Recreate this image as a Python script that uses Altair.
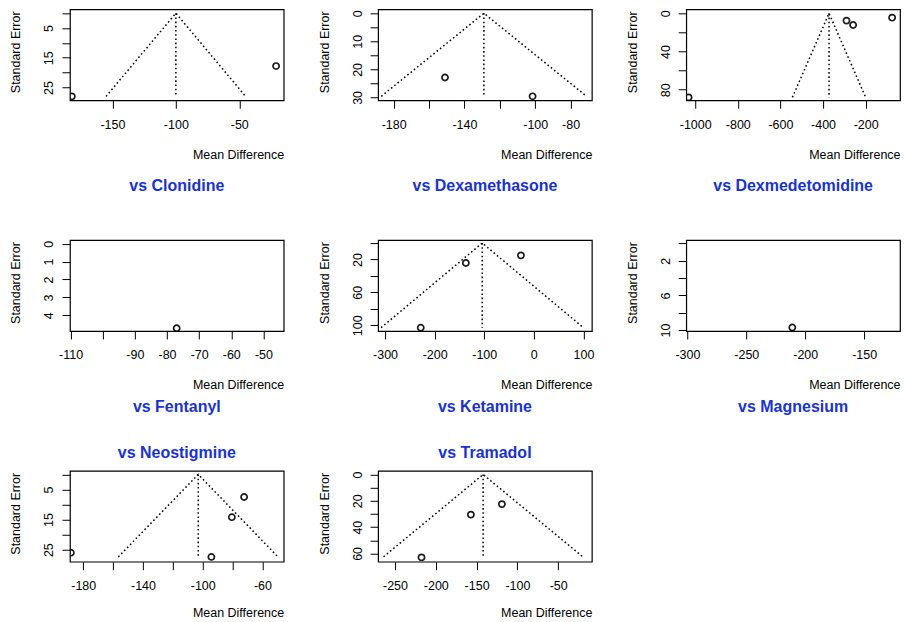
import altair as alt
import pandas as pd

# ---------------- data ----------------
titles = ["vs Clonidine", "vs Dexamethasone", "vs Dexmedetomidine",
          "vs Fentanyl", "vs Ketamine", "vs Magnesium",
          "vs Neostigmine", "vs Tramadol"]

# study points: mean difference and standard error
md_clonidine = [-182, -21]
se_clonidine = [28, 17.8]
md_dexamethasone = [-151, -101.5]
se_dexamethasone = [22.9, 29.6]
md_dexmedetomidine = [-1031, -290, -259, -76]
se_dexmedetomidine = [88, 7.6, 12.2, 4.5]
md_fentanyl = [-77]
se_fentanyl = [4.72]
md_ketamine = [-228, -137, -26]
se_ketamine = [103, 24.3, 15]
md_magnesium = [-211]
se_magnesium = [9.7]
md_neostigmine = [-188.3, -94.2, -80.5, -72.3]
se_neostigmine = [26.0, 27.4, 14.2, 7.5]
md_tramadol = [-217.5, -157, -119]
se_tramadol = [63, 30.5, 22.5]

# funnel: centre, left and right ends at the largest SE, largest SE (None = no funnel)
funnel_center = [-100, -129, -372, None, -104, None, -103, -142]
funnel_left = [-155, -187, -544, None, -308, None, -156.5, -264]
funnel_right = [-45, -71, -200, None, 100, None, -49.6, -20]
funnel_se = [28, 29.6, 88, None, 103, None, 27.4, 62.5]

# axis ranges
x_domains = [[-183.5, -15], [-188.8, -68], [-1042, -39], [-110.2, -43.7],
             [-314, 117], [-301, -119.6], [-188.9, -45.8], [-270.7, -8.8]]
y_domains = [[-1.3, 29.3], [-1.4, 31], [-4.2, 91], [-0.2, 4.87],
             [-3.6, 107], [-0.4, 10.1], [-1.2, 29], [-2.8, 66.3]]

# ticks and which ticks carry labels
x_ticks = [[-150, -100, -50], [-180, -160, -140, -120, -100, -80],
           [-1000, -800, -600, -400, -200], [-110, -100, -90, -80, -70, -60, -50],
           [-300, -200, -100, 0, 100], [-300, -250, -200, -150],
           [-180, -160, -140, -120, -100, -80, -60], [-250, -200, -150, -100, -50]]
x_labels = [[-150, -100, -50], [-180, -140, -100, -80],
            [-1000, -800, -600, -400, -200], [-110, -90, -80, -70, -60, -50],
            [-300, -200, -100, 0, 100], [-300, -250, -200, -150],
            [-180, -140, -100, -60], [-250, -200, -150, -100, -50]]
y_ticks = [[0, 5, 10, 15, 20, 25], [0, 5, 10, 15, 20, 25, 30], [0, 20, 40, 60, 80],
           [0, 1, 2, 3, 4], [0, 20, 40, 60, 80, 100], [0, 2, 4, 6, 8, 10],
           [0, 5, 10, 15, 20, 25], [0, 10, 20, 30, 40, 50, 60]]
y_labels = [[5, 15, 25], [0, 10, 20, 30], [0, 40, 80], [0, 1, 2, 3, 4],
            [20, 60, 100], [2, 6, 10], [5, 15, 25], [0, 20, 40, 60]]

points_md = [md_clonidine, md_dexamethasone, md_dexmedetomidine, md_fentanyl,
             md_ketamine, md_magnesium, md_neostigmine, md_tramadol]
points_se = [se_clonidine, se_dexamethasone, se_dexmedetomidine, se_fentanyl,
             se_ketamine, se_magnesium, se_neostigmine, se_tramadol]

# ---------------- styling ----------------
W, H = 214, 91
FONT = "Liberation Sans"
TITLE_BLUE = "#1a33cc"
title_orient = ["bottom"] * 6 + ["top"] * 2
title_offset = [25, 25, 25, 16, 16, 16, 2, 2]
xtitle_y = [54, 54, 54, 54, 54, 54, 51, 51]


def label_expr(vals):
    return "indexof([" + ",".join(str(v) for v in vals) + "], datum.value) >= 0 ? toString(datum.value) : ''"


def panel(i):
    xs = alt.Scale(domain=x_domains[i], nice=False, zero=False)
    ys = alt.Scale(domain=y_domains[i], nice=False, zero=False, reverse=True)
    common = dict(grid=False, domain=False, ticks=True, tickColor="black", tickSize=8,
                  tickWidth=1, tickCount=50, labelFont=FONT, labelFontSize=12.5,
                  labelColor="black", labelOverlap=False, labelFlush=False,
                  labelBound=False, titleFont=FONT, titleFontSize=12.5,
                  titleFontWeight="normal", titleColor="black")
    x_axis = alt.Axis(values=x_ticks[i], labelExpr=label_expr(x_labels[i]),
                      title="Mean Difference", titleX=W, titleY=xtitle_y[i],
                      titleAlign="right", titleAnchor="end", titleBaseline="middle",
                      labelPadding=10, labelBaseline="top", labelAlign="center",
                      **common)
    y_axis = alt.Axis(values=y_ticks[i], labelExpr=label_expr(y_labels[i]),
                      title="Standard Error", titleX=-54, titleY=H / 2 - 3,
                      titleAngle=270, titleAlign="center", titleBaseline="middle",
                      labelAngle=270, labelAlign="center", labelBaseline="alphabetic",
                      labelPadding=9, **common)
    pts = pd.DataFrame({"md": points_md[i], "se": points_se[i]})
    layers = []
    if funnel_center[i] is not None:
        vdf = pd.DataFrame({"md": [funnel_left[i], funnel_center[i], funnel_right[i]],
                            "se": [funnel_se[i], 0, funnel_se[i]],
                            "o": [0, 1, 2]})
        cdf = pd.DataFrame({"md": [funnel_center[i]], "se": [0], "se2": [funnel_se[i]]})
        layers.append(
            alt.Chart(vdf).mark_line(color="black", strokeWidth=1.5,
                                     strokeDash=[1.6, 2.6], clip=True).encode(
                x=alt.X("md:Q", scale=xs, axis=x_axis),
                y=alt.Y("se:Q", scale=ys, axis=y_axis),
                order="o:Q"))
        layers.append(
            alt.Chart(cdf).mark_rule(color="black", strokeWidth=1.5,
                                     strokeDash=[1.6, 2.6], clip=True).encode(
                x=alt.X("md:Q", scale=xs, axis=x_axis),
                y=alt.Y("se:Q", scale=ys, axis=y_axis),
                y2="se2:Q"))
    layers.append(
        alt.Chart(pts).mark_point(shape="circle", filled=False, color="#1a1a1a",
                                  size=38, strokeWidth=1.7, clip=True, opacity=1).encode(
            x=alt.X("md:Q", scale=xs, axis=x_axis),
            y=alt.Y("se:Q", scale=ys, axis=y_axis)))
    return alt.layer(*layers).properties(
        width=W, height=H,
        title=alt.TitleParams(titles[i], orient=title_orient[i], frame="group",
                              offset=title_offset[i], baseline="middle",
                              anchor="middle", font=FONT, fontSize=16,
                              fontWeight="bold", color=TITLE_BLUE))


chart = alt.concat(*[panel(i) for i in range(8)], columns=3,
                   spacing={"row": 140, "column": 94.5}, bounds="flush").properties(
    padding={"left": 1, "top": 0, "right": 0, "bottom": 0},
    background="white"
).configure_view(stroke="black", strokeWidth=1.2)

chart.save("out.html", embed_options={"renderer": "svg", "actions": False})
